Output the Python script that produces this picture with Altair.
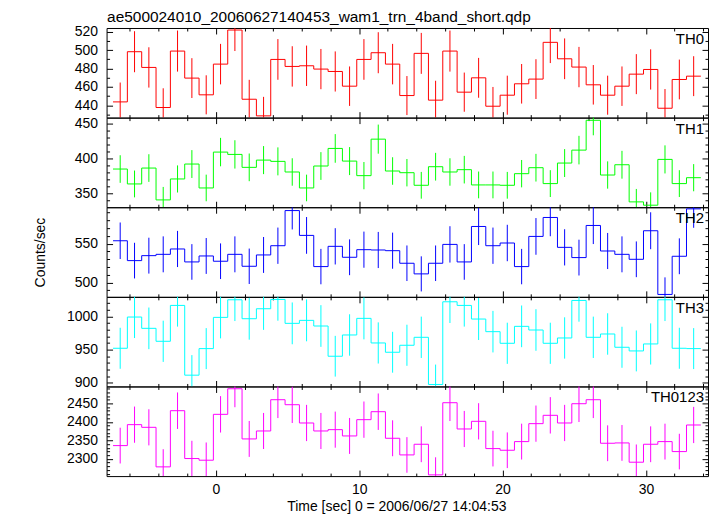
import altair as alt
import pandas as pd
import numpy as np

PLOT_TITLE = "ae500024010_20060627140453_wam1_trn_4band_short.qdp"
X_AXIS_TITLE = "Time [sec] 0 = 2006/06/27 14:04:53"
Y_AXIS_TITLE = "Counts/sec"

# bin centres (s) and half bin width
time_sec = [-6.67, -5.67, -4.67, -3.67, -2.67, -1.67, -0.67, 0.33, 1.33, 2.33,
            3.33, 4.33, 5.33, 6.33, 7.33, 8.33, 9.33, 10.33, 11.33, 12.33,
            13.33, 14.33, 15.33, 16.33, 17.33, 18.33, 19.33, 20.33, 21.33, 22.33,
            23.33, 24.33, 25.33, 26.33, 27.33, 28.33, 29.33, 30.33, 31.33, 32.33, 33.33]
half_bin = 0.5

band_names = ["TH0", "TH1", "TH2", "TH3", "TH0123"]
band_colors = ["#ff0000", "#00ff00", "#0000ff", "#00ffff", "#ff00ff"]

th0 = [443.6, 498.2, 481.1, 437.5, 498.9, 469.5, 451.3, 484.7, 521.8, 446.5,
       428.4, 489.8, 482.2, 482.9, 479.3, 476.7, 460.7, 489.8, 497.1, 484.7,
       450.5, 496.4, 445.5, 498.9, 454.2, 469.8, 438.9, 450.9, 463.3, 468.4,
       508.4, 490.5, 481.5, 462.2, 450.9, 460.7, 473.8, 478.9, 436.7, 468.0, 471.6]
th1 = [384.9, 363.7, 386.3, 341.0, 370.8, 392.0, 358.0, 409.0, 405.7, 387.3,
       397.6, 395.8, 380.7, 358.0, 389.2, 414.2, 396.2, 375.5, 427.4, 382.1,
       379.7, 361.8, 388.2, 380.7, 384.0, 362.3, 362.3, 361.8, 378.3, 386.8,
       364.2, 393.4, 411.8, 454.2, 376.4, 391.0, 338.2, 333.5, 398.6, 364.2, 372.6]
th2 = [553.8, 528.2, 534.6, 536.3, 543.2, 526.5, 534.2, 527.4, 536.3, 520.9,
       535.5, 547.4, 592.7, 560.7, 520.5, 546.6, 532.5, 542.3, 541.9, 541.0,
       524.8, 511.1, 524.8, 549.1, 526.5, 572.2, 547.4, 550.9, 520.5, 559.4,
       583.8, 545.3, 532.1, 573.5, 540.6, 536.3, 529.9, 566.7, 484.6, 533.8, 594.9]
th3 = [952.0, 999.0, 982.0, 962.5, 1016.5, 911.5, 951.5, 998.5, 1025.0, 996.5,
       1011.5, 1025.5, 989.5, 994.0, 985.5, 940.0, 972.0, 997.0, 960.0, 946.0,
       956.5, 968.5, 897.5, 1022.0, 1016.5, 996.0, 977.0, 959.5, 985.0, 979.5,
       959.5, 967.5, 1024.0, 968.5, 973.5, 953.5, 948.0, 958.5, 1025.0, 952.0, 951.5]
th0123 = [2335.9, 2392.5, 2385.3, 2278.4, 2430.2, 2300.9, 2296.4, 2420.4, 2489.5, 2353.9,
          2375.4, 2459.9, 2446.4, 2397.0, 2375.4, 2379.0, 2362.0, 2406.0, 2427.5, 2355.7,
          2310.7, 2339.5, 2256.8, 2451.8, 2380.8, 2401.5, 2327.8, 2323.3, 2346.7, 2395.2,
          2417.7, 2397.0, 2449.1, 2459.9, 2342.2, 2343.1, 2291.0, 2339.5, 2346.7, 2319.7, 2391.6]

band_values = [th0, th1, th2, th3, th0123]

# axis ranges and tick marks
x_domain = [-7.62, 34.33]
x_major = [0, 10, 20, 30]
x_minor = [-6, -4, -2, 2, 4, 6, 8, 12, 14, 16, 18, 22, 24, 26, 28, 32, 34]

y_domains = [[426.5, 524.0], [330.6, 458.0], [481.5, 597.0], [894.5, 1029.4], [2253.5, 2495.7]]
y_major = [[440, 460, 480, 500, 520], [350, 400, 450], [500, 550], [900, 950, 1000],
           [2300, 2350, 2400, 2450]]
y_minor = [[430, 450, 470, 490, 510],
           [340, 360, 370, 380, 390, 410, 420, 430, 440],
           [490, 510, 520, 530, 540, 560, 570, 580, 590],
           [910, 920, 930, 940, 960, 970, 980, 990, 1010, 1020],
           [2260, 2270, 2280, 2290, 2310, 2320, 2330, 2340, 2360, 2370, 2380, 2390,
            2410, 2420, 2430, 2440, 2460, 2470, 2480, 2490]]

FONT = "Liberation Sans"
W = 604
H = 90
MAJ = 6
MIN = 3


def tick_axis(orient, values, size):
    return alt.Axis(orient=orient, values=values, tickSize={"expr": str(-size)},
                    labels=False, domain=False, grid=False, title=None,
                    tickColor="black", tickWidth=1)


def panel(i):
    name = band_names[i]
    color = band_colors[i]
    vals = band_values[i]
    errs = np.sqrt(np.array(vals))  # Poisson errors of 1 s bins
    last = i == len(band_names) - 1

    step_df = pd.DataFrame({
        "t": [t - half_bin for t in time_sec] + [time_sec[-1] + half_bin],
        "rate": list(vals) + [vals[-1]],
    })
    err_df = pd.DataFrame({
        "t": time_sec,
        "lo": np.array(vals) - errs,
        "hi": np.array(vals) + errs,
    })

    xs = alt.Scale(domain=x_domain, nice=False, zero=False)
    ys = alt.Scale(domain=y_domains[i], nice=False, zero=False)

    ylab_kwargs = dict(orient="left", values=y_major[i], tickSize={"expr": str(-MAJ)},
                       labelPadding=MAJ + 9, domain=False, grid=False, format="d",
                       tickColor="black", labelFontSize=14, labelColor="black",
                       labelFont=FONT)
    if i == 2:
        ylab_kwargs.update(title=Y_AXIS_TITLE, titleX=-66, titleY=H / 2,
                           titleAngle=270, titleAlign="center", titleBaseline="middle",
                           titleFontSize=14, titleFontWeight="normal", titleFont=FONT,
                           titleColor="black")
    else:
        ylab_kwargs.update(title=None)
    y_lab_axis = alt.Axis(**ylab_kwargs)

    if last:
        x_main_axis = alt.Axis(orient="bottom", values=x_major, tickSize={"expr": str(-MAJ)},
                               labelPadding=MAJ + 6, domain=False, grid=False, format="d",
                               tickColor="black", labelFontSize=14, labelColor="black",
                               labelFont=FONT,
                               title=X_AXIS_TITLE, titleX=291, titleY=35,
                               titleAlign="center", titleBaseline="alphabetic",
                               titleFontSize=14, titleFontWeight="normal", titleFont=FONT,
                               titleColor="black")
    else:
        x_main_axis = tick_axis("bottom", x_major, MAJ)

    line = alt.Chart(step_df).mark_line(
        interpolate="step-after", color=color, strokeWidth=1, clip=True
    ).encode(
        x=alt.X("t:Q", scale=xs, axis=x_main_axis),
        y=alt.Y("rate:Q", scale=ys, axis=y_lab_axis),
    )
    bars = alt.Chart(err_df).mark_rule(color=color, strokeWidth=1, clip=True).encode(
        x=alt.X("t:Q", scale=xs, axis=tick_axis("bottom", x_minor, MIN)),
        y=alt.Y("lo:Q", scale=ys, axis=tick_axis("left", y_minor[i], MIN)),
        y2="hi:Q",
    )
    ghost1 = alt.Chart(step_df).mark_point(opacity=0, clip=True).encode(
        x=alt.X("t:Q", scale=xs, axis=tick_axis("top", x_major, MAJ)),
        y=alt.Y("rate:Q", scale=ys, axis=tick_axis("right", y_major[i], MAJ)),
    )
    ghost2 = alt.Chart(step_df).mark_point(opacity=0, clip=True).encode(
        x=alt.X("t:Q", scale=xs, axis=tick_axis("top", x_minor, MIN)),
        y=alt.Y("rate:Q", scale=ys, axis=tick_axis("right", y_minor[i], MIN)),
    )
    label = alt.Chart(pd.DataFrame({"name": [name]})).mark_text(
        align="right", baseline="alphabetic", fontSize=15, font=FONT, color="black"
    ).encode(text="name:N", x=alt.value(W - 4), y=alt.value(16))

    return alt.layer(line, bars, ghost1, ghost2, label).resolve_axis(
        x="independent", y="independent"
    ).properties(width=W, height=H)


chart = alt.vconcat(*[panel(i) for i in range(5)], spacing=0, bounds="flush").properties(
    title=alt.TitleParams(PLOT_TITLE, anchor="start", dx=74, offset=-1, font=FONT,
                          fontSize=15.5, fontWeight="normal", color="black"),
    padding={"left": 25, "top": 0, "right": 0, "bottom": 0},
    background="white",
).configure_view(
    stroke="black", strokeWidth=1
).configure_axis(
    labelFont=FONT, titleFont=FONT
).configure_title(
    font=FONT, fontSize=15.5, fontWeight="normal", color="black"
)

chart.save("out.html", embed_options={"renderer": "svg", "actions": False})
